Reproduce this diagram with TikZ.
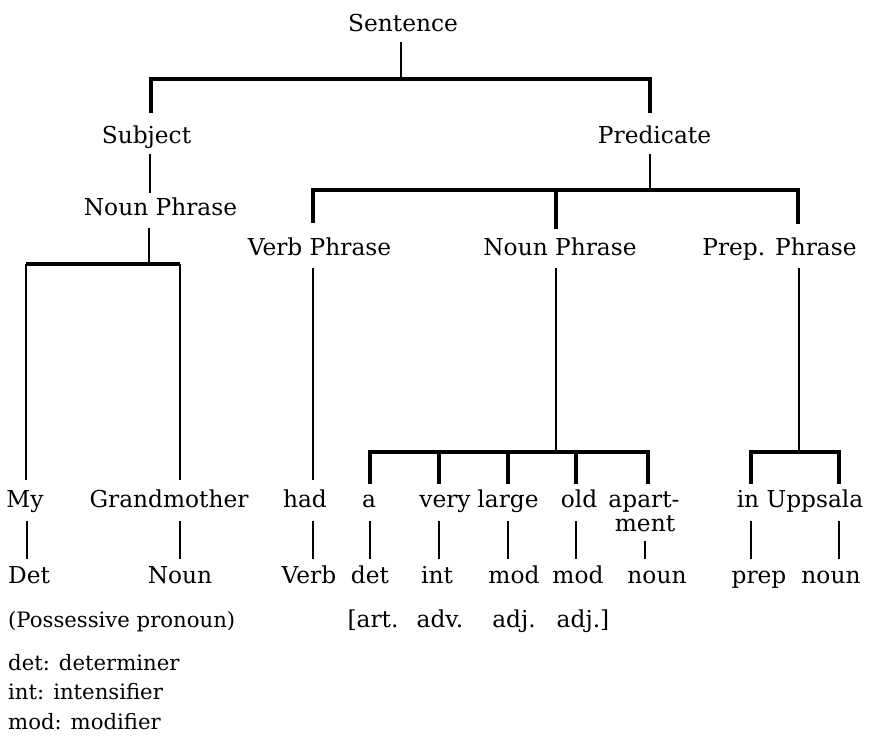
\documentclass[tikz,border=0pt]{standalone}
\usepackage{fontspec}
\setmainfont{DejaVu Serif}
\begin{document}
\begin{tikzpicture}[x=1pt,y=-1pt,
  lbl/.style={inner sep=0pt, anchor=base, font=\fontsize{23.3}{27}\selectfont},
  leg/.style={inner sep=0pt, anchor=base west, font=\fontsize{21.2}{25}\selectfont},
  bar/.style={line width=3.2pt, line join=miter},
  stem/.style={line width=2.7pt},
  thin/.style={line width=1.7pt}]
\useasboundingbox (0,0) rectangle (870,742);
% ---- labels
\node[lbl] (sent) at (403,31) {Sentence};
\node[lbl] (subj) at (146.5,143) {Subject};
\node[lbl] (pred) at (654.5,143) {Predicate};
\node[lbl] (npl) at (160.5,215) {Noun Phrase};
\node[lbl] (vp) at (319.5,255) {Verb Phrase};
\node[lbl] (npm) at (560,255) {Noun Phrase};
\node[lbl] (pp) at (779.5,255) {Prep. Phrase};
% words
\node[lbl] (wmy) at (25,507) {My};
\node[lbl] (wgm) at (169,507) {Grandmother};
\node[lbl] (whad) at (305,507) {had};
\node[lbl] (wa) at (369,507) {a};
\node[lbl] (wvery) at (445,507) {very};
\node[lbl] (wlarge) at (508,507) {large};
\node[lbl] (wold) at (579,507) {old};
\node[lbl] (wapart) at (644,507) {apart-};
\node[lbl] (wment) at (645,531) {ment};
\node[lbl] (win) at (748,507) {in};
\node[lbl] (wupp) at (815,507) {Uppsala};
% categories
\node[lbl] (cdet) at (29,583) {Det};
\node[lbl] (cnoun) at (180,583) {Noun};
\node[lbl] (cverb) at (309,583) {Verb};
\node[lbl] (cdet2) at (370,583) {det};
\node[lbl] (cint) at (437,583) {int};
\node[lbl] (cmod) at (514,583) {mod};
\node[lbl] (cmod2) at (578,583) {mod};
\node[lbl] (cnoun2) at (657,583) {noun};
\node[lbl] (cprep) at (759,583) {prep};
\node[lbl] (cnoun3) at (831,583) {noun};
% annotations
\node[leg] (poss) at (8,627) {(Possessive pronoun)};
\node[lbl] (aart) at (373,627) {[art.};
\node[lbl] (aadv) at (440,627) {adv.};
\node[lbl] (aadj) at (514,627) {adj.};
\node[lbl] (aadj2) at (583,627) {adj.]};
\node[leg] (l1) at (8,670) {det: determiner};
\node[leg] (l2) at (8,699) {int: intensifier};
\node[leg] (l3) at (8,729) {mod: modifier};
% ---- connector points
\coordinate (t0) at (401,42);
\coordinate (t1) at (401,79);
\coordinate (tL) at (151,79);
\coordinate (tR) at (650,79);
\coordinate (tLd) at (151,113);
\coordinate (tRd) at (650,113);
\coordinate (s0) at (150,154);
\coordinate (s1) at (150,193);
\coordinate (n0) at (149,228);
\coordinate (n1) at (149,264);
\coordinate (nL) at (26,264);
\coordinate (nR) at (180,264);
\coordinate (nLd) at (26,480);
\coordinate (nRd) at (180,480);
\coordinate (p0) at (650,154);
\coordinate (p1) at (650,190);
\coordinate (pL) at (313,190);
\coordinate (pR) at (798,190);
\coordinate (pLd) at (313,223);
\coordinate (pM) at (556,190);
\coordinate (pMd) at (556,229);
\coordinate (pRd) at (798,224);
\coordinate (v0) at (313,268);
\coordinate (v1) at (313,480);
\coordinate (m0) at (556,268);
\coordinate (m1) at (556,452);
\coordinate (mA) at (370,452);
\coordinate (mE) at (648,452);
\coordinate (q0) at (799,268);
\coordinate (q1) at (799,452);
\coordinate (qA) at (751,452);
\coordinate (qB) at (839,452);
% ---- connectors
\draw[stem] (t0) -- (t1);
\draw[bar] (tLd) -- (tL) -- (tR) -- (tRd);
\draw[stem] (s0) -- (s1);
\draw[stem] (n0) -- (n1);
\draw[bar] (nL) -- (nR);
\draw[stem] (nL) -- (nLd);
\draw[stem] (nR) -- (nRd);
\draw[stem] (p0) -- (p1);
\draw[bar] (pLd) -- (pL) -- (pR) -- (pRd);
\draw[bar] (pM) -- (pMd);
\draw[thin] (v0) -- (v1);
\draw[thin] (m0) -- (m1);
\draw[bar] (370,484) -- (mA) -- (mE) -- (648,484);
\draw[bar] (439,452) -- (439,484);
\draw[bar] (508,452) -- (508,484);
\draw[bar] (576,452) -- (576,484);
\draw[thin] (q0) -- (q1);
\draw[bar] (751,484) -- (qA) -- (qB) -- (839,484);
% short lines word -> category
\foreach \xx in {27,180,313,370,439,508,576,751,839}
  \draw[stem] (\xx,521) -- (\xx,559);
\draw[stem] (645,541) -- (645,559);
\end{tikzpicture}
\end{document}
